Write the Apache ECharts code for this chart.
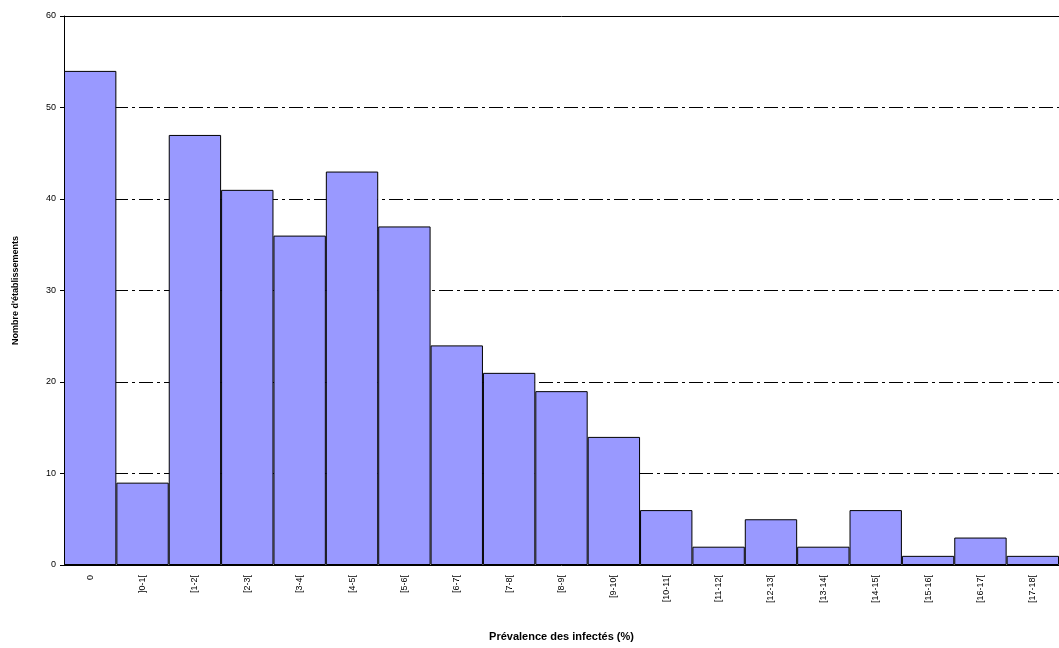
<!DOCTYPE html>
<html>
<head>
<meta charset="utf-8">
<script src="https://cdn.jsdelivr.net/npm/echarts@6/dist/echarts.min.js"></script>
<style>*{margin:0;padding:0;} body{background:#fff;}</style>
</head>
<body>
<div id="main" style="width:1059px;height:648px;"></div>
<script>
var categories = ['0', ']0-1[', '[1-2[', '[2-3[', '[3-4[', '[4-5[', '[5-6[', '[6-7[', '[7-8[', '[8-9[',
    '[9-10[', '[10-11[', '[11-12[', '[12-13[', '[13-14[', '[14-15[', '[15-16[', '[16-17[', '[17-18['];
var counts = [54, 9, 47, 41, 36, 43, 37, 24, 21, 19, 14, 6, 2, 5, 2, 6, 1, 3, 1];

var myChart = echarts.init(document.getElementById('main'));
myChart.setOption({
    animation: false,
    grid: { left: 64, right: 0, top: 16, bottom: 83 },
    xAxis: [{
        type: 'category',
        data: categories,
        name: 'Prévalence des infectés (%)',
        nameLocation: 'middle',
        nameGap: 66,
        nameTextStyle: { fontFamily: 'Arial', fontSize: 11, fontWeight: 'bold', color: '#000' },
        axisLine: { lineStyle: { color: '#000' } },
        axisTick: { lineStyle: { color: '#000' }, length: 4 },
        axisLabel: { rotate: 90, fontFamily: 'Arial', fontSize: 9, color: '#000', margin: 10 }
    }, {
        type: 'category',
        data: categories,
        position: 'top',
        z: 10,
        axisLine: { lineStyle: { color: '#000' } },
        axisTick: { show: false },
        axisLabel: { show: false }
    }],
    yAxis: {
        type: 'value',
        min: 0, max: 60, interval: 10,
        name: "Nombre d'établissements",
        nameLocation: 'middle',
        nameGap: 44,
        nameTextStyle: { fontFamily: 'Arial', fontSize: 9, fontWeight: 'bold', color: '#000' },
        axisLine: { show: true, lineStyle: { color: '#000' } },
        axisTick: { show: true, inside: false, length: 4, lineStyle: { color: '#000' } },
        axisLabel: { fontFamily: 'Arial', fontSize: 9, color: '#000', margin: 8 },
        splitLine: { lineStyle: { color: '#000', width: 1.2, type: [14, 4, 3, 4] } }
    },
    series: [{
        type: 'bar',
        data: counts,
        barCategoryGap: '0%',
        itemStyle: { color: '#9999ff', borderColor: '#000', borderWidth: 1 }
    }]
});
</script>
</body>
</html>
